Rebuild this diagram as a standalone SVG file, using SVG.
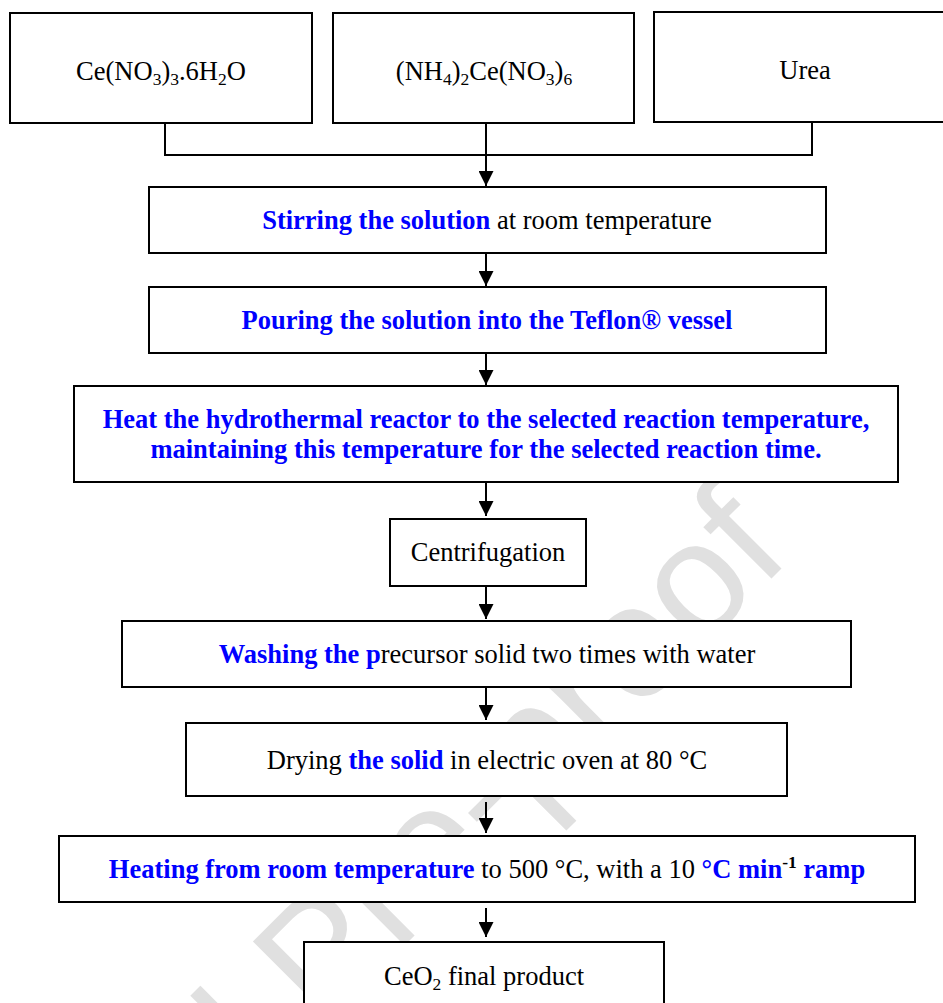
<svg xmlns="http://www.w3.org/2000/svg" width="943" height="1003" viewBox="0 0 943 1003">
<defs>
<style>
.box{fill:#fff;stroke:#000;stroke-width:2}
.t{font-family:"Liberation Serif","Times New Roman",serif;font-size:26.5px;fill:#000;text-anchor:middle}
.b{font-weight:bold;fill:#0000ff}
.k{font-weight:bold;fill:#000}
.sub{font-size:17.5px}
.wm{font-family:"Liberation Sans",Arial,sans-serif;font-size:160px;fill:#e0e0e0;text-anchor:end}
.conn{stroke:#000;stroke-width:2;fill:none}
</style>
<marker id="ah" viewBox="0 0 15 15" refX="15" refY="7.5" markerWidth="15" markerHeight="15" markerUnits="userSpaceOnUse" orient="auto">
<path d="M0,0 L15,7.5 L0,15 z" fill="#000"/>
</marker>
</defs>
<rect width="943" height="1003" fill="#fff"/>
<g id="watermark">
<text class="wm" x="793" y="557" transform="rotate(-45 793 557)">Journal Pre-proof</text>
</g>
<g id="n1"><rect class="box" x="10" y="13" width="302" height="110"/>
<text class="t" x="161" y="80">Ce(NO<tspan class="sub" dy="5">3</tspan><tspan dy="-5">)</tspan><tspan class="sub" dy="5">3</tspan><tspan dy="-5">.6H</tspan><tspan class="sub" dy="5">2</tspan><tspan dy="-5">O</tspan></text></g>
<g id="n2"><rect class="box" x="333" y="13" width="301" height="110"/>
<text class="t" x="484" y="80">(NH<tspan class="sub" dy="5">4</tspan><tspan dy="-5">)</tspan><tspan class="sub" dy="5">2</tspan><tspan dy="-5">Ce(NO</tspan><tspan class="sub" dy="5">3</tspan><tspan dy="-5">)</tspan><tspan class="sub" dy="5">6</tspan></text></g>
<g id="n3"><rect class="box" x="654" y="12" width="300" height="110"/>
<text class="t" x="805" y="79">Urea</text></g>
<g id="n4"><rect class="box" x="149" y="187" width="677" height="66"/>
<text class="t" x="487" y="229"><tspan class="b">Stirring the solution</tspan> at room temperature</text></g>
<g id="n5"><rect class="box" x="149" y="287" width="677" height="66"/>
<text class="t" x="487" y="329"><tspan class="b">Pouring the solution into the Teflon® vessel</tspan></text></g>
<g id="n6"><rect class="box" x="74" y="386" width="824" height="96"/>
<text class="t" x="486" y="428"><tspan class="b">Heat the hydrothermal reactor to the selected reaction temperature,</tspan></text>
<text class="t" x="486" y="458"><tspan class="b">maintaining this temperature for the selected reaction time.</tspan></text></g>
<g id="n7"><rect class="box" x="390" y="519" width="196" height="67"/>
<text class="t" x="488" y="561">Centrifugation</text></g>
<g id="n8"><rect class="box" x="122" y="621" width="729" height="66"/>
<text class="t" x="487" y="663"><tspan class="b">Washing the p</tspan>recursor solid two times with water</text></g>
<g id="n9"><rect class="box" x="186" y="723" width="601" height="73"/>
<text class="t" x="487" y="769">Drying <tspan class="b">the solid</tspan> in electric oven at 80 °C</text></g>
<g id="n10"><rect class="box" x="59" y="836" width="856" height="66"/>
<text class="t" x="487" y="878"><tspan class="b">Heating from room temperature</tspan> to 500 °C, with a 10 <tspan class="b">°C min</tspan><tspan class="k sub" dy="-10">-1</tspan><tspan class="b" dy="10"> ramp</tspan></text></g>
<g id="n11"><rect class="box" x="304" y="942" width="360" height="80"/>
<text class="t" x="484" y="985">CeO<tspan class="sub" dy="5">2</tspan><tspan dy="-5"> final product</tspan></text></g>
<g id="connectors">
<path class="conn" d="M165,123 V155 H812 V122"/>
<line class="conn" x1="486" y1="123" x2="486" y2="186" marker-end="url(#ah)"/>
<line class="conn" x1="486" y1="253" x2="486" y2="286" marker-end="url(#ah)"/>
<line class="conn" x1="486" y1="353" x2="486" y2="385" marker-end="url(#ah)"/>
<line class="conn" x1="486" y1="482" x2="486" y2="516" marker-end="url(#ah)"/>
<line class="conn" x1="486" y1="586" x2="486" y2="619" marker-end="url(#ah)"/>
<line class="conn" x1="486" y1="687" x2="486" y2="720" marker-end="url(#ah)"/>
<line class="conn" x1="486" y1="802" x2="486" y2="833" marker-end="url(#ah)"/>
<line class="conn" x1="486" y1="908" x2="486" y2="937" marker-end="url(#ah)"/>
</g>
</svg>
